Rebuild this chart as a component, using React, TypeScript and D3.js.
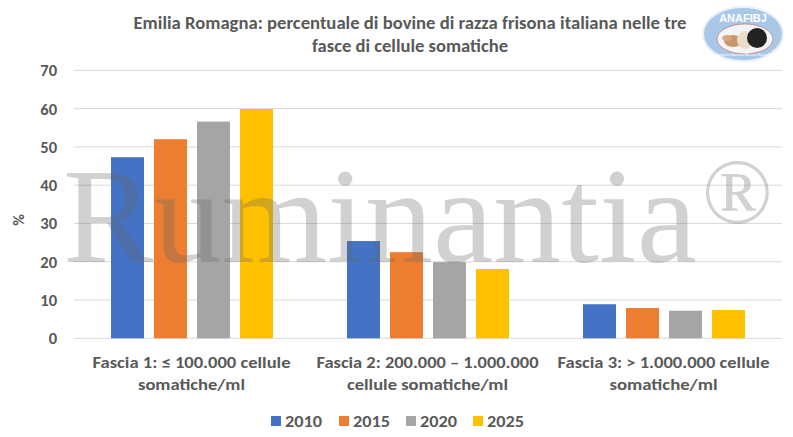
import React from "react";
import * as d3 from "d3";

const categories = ["Fascia 1", "Fascia 2", "Fascia 3"];
const categoryLines = [
  ["Fascia 1: ≤ 100.000 cellule", "somatiche/ml"],
  ["Fascia 2: 200.000 – 1.000.000", "cellule somatiche/ml"],
  ["Fascia 3: > 1.000.000 cellule", "somatiche/ml"],
];
const years = ["2010", "2015", "2020", "2025"];
const values2010 = [47.3, 25.4, 8.9];
const values2015 = [52.0, 22.5, 7.9];
const values2020 = [56.6, 19.9, 7.2];
const values2025 = [59.9, 18.1, 7.4];
const series = [values2010, values2015, values2020, values2025];
const colors = ["#4472C4", "#ED7D31", "#A5A5A5", "#FFC000"];
const yTicks = [0, 10, 20, 30, 40, 50, 60, 70];
const titleLines = [
  "Emilia Romagna: percentuale di bovine di razza frisona italiana nelle tre",
  "fasce di cellule somatiche",
];

const W = 793;
const H = 437;
const FONT = "Carlito, 'Liberation Sans Narrow', 'Open Sans', 'Liberation Sans', sans-serif";
const TXT = "#595959";

export default function App() {
  const x0 = d3.scaleBand<string>().domain(categories).range([74, 782]).paddingInner(0).paddingOuter(0);
  const x1 = d3
    .scaleBand<string>()
    .domain(years)
    .range([0, x0.bandwidth()])
    .paddingInner(0.2326)
    .paddingOuter(0.86);
  const y = d3.scaleLinear().domain([0, 70]).range([338.3, 70.3]);

  const titleWidths = [553, 196];
  const catWidths = [
    [198, 107],
    [222, 161],
    [212, 108],
  ];
  const legendX = [271, 339, 406, 473];

  return (
    <svg
      width={W}
      height={H}
      style={{ position: "absolute", left: 0, top: 0, background: "#fff" }}
      fontFamily={FONT}
    >
      <rect x={0} y={0} width={W} height={H} fill="#fff" />
      {/* title */}
      {titleLines.map((t, i) => (
        <text
          key={i}
          x={410}
          y={29 + i * 23}
          textAnchor="middle"
          fontSize={17}
          fontWeight="bold"
          fill={TXT}
          textLength={titleWidths[i]}
          lengthAdjust="spacingAndGlyphs"
        >
          {t}
        </text>
      ))}
      {/* gridlines */}
      {yTicks.map((t) => (
        <line key={t} x1={74} x2={782} y1={y(t)} y2={y(t)} stroke="#D9D9D9" strokeWidth={1} />
      ))}
      {/* y tick labels */}
      {yTicks.map((t) => (
        <text
          key={t}
          x={57}
          y={y(t) + 6}
          textAnchor="end"
          fontSize={16.5}
          fontWeight="bold"
          fill={TXT}
        >
          {t}
        </text>
      ))}
      <text
        transform={`translate(24,220) rotate(-90)`}
        textAnchor="middle"
        fontSize={16}
        fontWeight="bold"
        fill={TXT}
      >
        %
      </text>
      {/* bars */}
      {categories.map((c, ci) => (
        <g key={c} transform={`translate(${x0(c)},0)`}>
          {years.map((yr, si) => (
            <rect
              key={yr}
              x={x1(yr)}
              y={y(series[si][ci])}
              width={x1.bandwidth()}
              height={y(0) - y(series[si][ci])}
              fill={colors[si]}
            />
          ))}
        </g>
      ))}
      {/* category labels */}
      {categories.map((c, ci) => (
        <g key={c}>
          {categoryLines[ci].map((l, li) => (
            <text
              key={li}
              x={(x0(c) as number) + x0.bandwidth() / 2 - 0.5}
              y={368 + li * 22}
              textAnchor="middle"
              fontSize={16}
              fontWeight="bold"
              fill={TXT}
              textLength={catWidths[ci][li]}
              lengthAdjust="spacingAndGlyphs"
            >
              {l}
            </text>
          ))}
        </g>
      ))}
      {/* legend */}
      {years.map((yr, i) => (
        <g key={yr}>
          <rect x={legendX[i]} y={416} width={10} height={10} fill={colors[i]} />
          <text
            x={legendX[i] + 14}
            y={427}
            fontSize={16}
            fontWeight="bold"
            fill={TXT}
            textLength={37}
            lengthAdjust="spacingAndGlyphs"
          >
            {yr}
          </text>
        </g>
      ))}
      {/* logo */}
      <g>
        <ellipse cx={743} cy={34} rx={40} ry={27} fill="#A9C7E6" stroke="#E8F0F8" strokeWidth={2} />
        <ellipse cx={745} cy={39} rx={28} ry={15} fill="#F4F4F4" stroke="#C06060" strokeWidth={0.6} />
        <ellipse cx={733} cy={41} rx={9} ry={6} fill="#C9956B" />
        <ellipse cx={727} cy={38} rx={5} ry={3} fill="#D8A77E" />
        <ellipse cx={745} cy={40} rx={8} ry={9} fill="#E8DCCB" />
        <ellipse cx={757} cy={38} rx={10} ry={10} fill="#222" />
        <text x={743} y={22} textAnchor="middle" fontSize={11} fontWeight="bold" fill="#fff" fontFamily="'Liberation Sans', sans-serif">
          ANAFIBJ
        </text>
        <text x={745} y={56} textAnchor="middle" fontSize={3} fill="#fff" fontFamily="'Liberation Sans', sans-serif">
          Associazione Nazionale Allevatori Razza Frisona
        </text>
      </g>
      {/* watermark */}
      <g fontFamily="'Liberation Serif', 'Times New Roman', serif" fill="#666" fillOpacity={0.3}>
        <text x={63} y={262} fontSize={136} textLength={634} lengthAdjust="spacingAndGlyphs">
          Ruminantia
        </text>
        <text x={702} y={223} fontSize={93}>
          ®
        </text>
      </g>
    </svg>
  );
}
